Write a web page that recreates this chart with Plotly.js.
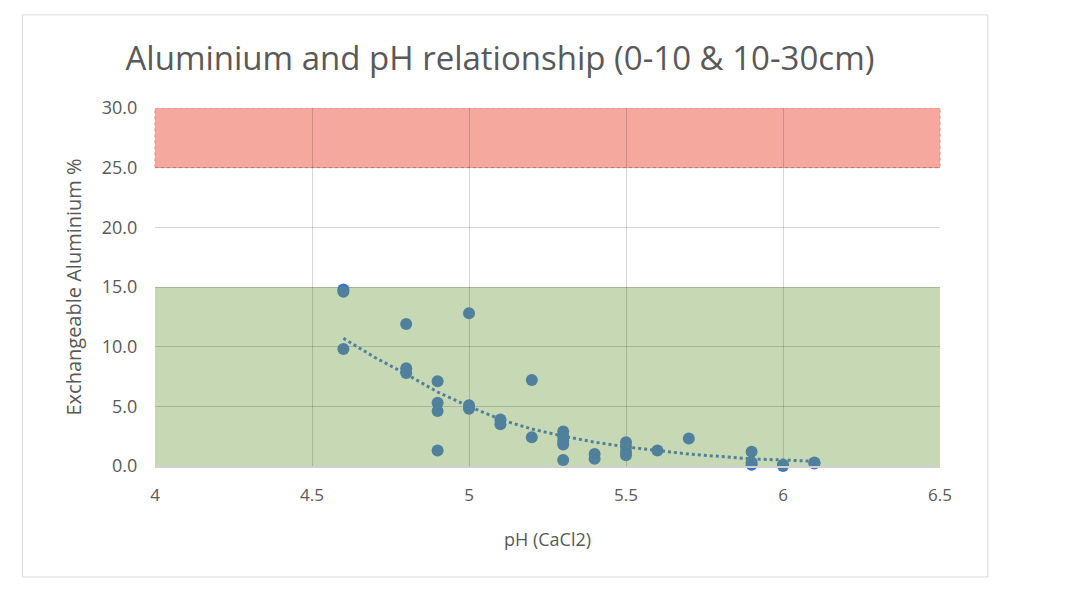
<!DOCTYPE html>
<html>
<head>
<meta charset="utf-8">
<script src="https://cdn.plot.ly/plotly-3.0.1.min.js"></script>
<style>
  html, body { margin: 0; padding: 0; background: #fff; }
  #chart { width: 1066px; height: 601px; }
</style>
</head>
<body>
<div id="chart"></div>
<script>
'use strict';
/* soil samples, 0-10 & 10-30cm */
var ph = [4.6, 4.6, 4.8, 4.8, 4.8, 4.9, 4.9, 4.9, 4.9, 5.0, 5.0, 5.0, 5.1, 5.1, 5.2, 5.2,
          5.3, 5.3, 5.3, 5.3, 5.3, 5.4, 5.4, 5.5, 5.5, 5.5, 5.5, 5.6, 5.7, 5.9, 5.9, 6.0, 6.1];
var al = [14.6, 9.8, 11.9, 8.2, 7.8, 7.1, 5.3, 4.6, 1.3, 12.8, 5.1, 4.8, 3.9, 3.5, 7.2, 2.4,
          2.9, 2.5, 2.1, 1.8, 0.5, 1.0, 0.6, 2.0, 1.6, 1.2, 0.9, 1.3, 2.3, 1.2, 0.3, 0.1, 0.3];

/* second series, mostly hidden under the first */
var ph_b = [4.6, 5.9, 6.0, 6.1];
var al_b = [14.8, 0.1, 0.0, 0.2];

/* dotted trendline */
var trend_ph = [4.6, 4.7, 4.8, 4.9, 5.0, 5.1, 5.2, 5.3, 5.4, 5.5, 5.6, 5.7, 5.8, 5.9, 6.0, 6.1];
var trend_al = [10.7, 9.1, 7.7, 6.2, 5.0, 3.9, 3.1, 2.5, 2.0, 1.6, 1.3, 1.0, 0.8, 0.6, 0.5, 0.4];

/* target bands */
var green_band = [0, 15];
var red_band = [25, 30];

var x_ticks = [4, 4.5, 5, 5.5, 6, 6.5];
var y_ticks = [0, 5, 10, 15, 20, 25, 30];

var steel = '#50809b';
var font = '"Open Sans", "Liberation Sans", sans-serif';

var data = [
{
  x: ph_b,
  y: al_b,
  type: 'scatter',
  mode: 'markers',
  marker: { color: '#3f6fd0', size: 12 },
  cliponaxis: false,
  hoverinfo: 'x+y'
},
{
  x: trend_ph,
  y: trend_al,
  type: 'scatter',
  mode: 'lines',
  line: { color: steel, width: 3, dash: 'dot' },
  hoverinfo: 'skip'
},
{
  x: ph,
  y: al,
  type: 'scatter',
  mode: 'markers',
  marker: { color: steel, size: 12 },
  cliponaxis: false,
  hoverinfo: 'x+y'
}];

var layout = {
  width: 1066,
  height: 601,
  margin: { l: 155, r: 126, t: 108, b: 135 },
  paper_bgcolor: '#ffffff',
  plot_bgcolor: '#ffffff',
  showlegend: false,
  font: { family: font, color: '#595959', size: 17 },
  title: {
    text: 'Aluminium and pH relationship (0-10 & 10-30cm)',
    font: { family: font, size: 33, color: '#595959' },
    xref: 'container',
    x: 0.469,
    xanchor: 'center',
    yref: 'container',
    y: 0.903,
    yanchor: 'middle'
  },
  xaxis: {
    range: [4, 6.5],
    tickvals: x_ticks,
    ticktext: x_ticks.map(String),
    showgrid: true,
    gridcolor: 'rgba(0,0,0,0.16)',
    zeroline: false,
    showline: true,
    linecolor: '#d0d0d0',
    linewidth: 1.5,
    ticks: 'outside',
    ticklen: 13,
    tickcolor: 'rgba(0,0,0,0)',
    tickfont: { size: 17, color: '#595959' },
    title: { text: 'pH (CaCl2)', font: { size: 18, color: '#595959' }, standoff: 28 }
  },
  yaxis: {
    range: [0, 30],
    tickvals: y_ticks,
    tickformat: '.1f',
    showgrid: true,
    gridcolor: 'rgba(0,0,0,0.16)',
    zeroline: false,
    showline: false,
    ticks: 'outside',
    ticklen: 13,
    tickcolor: 'rgba(0,0,0,0)',
    tickfont: { size: 18, color: '#595959' },
    title: { text: 'Exchangeable Aluminium %', font: { size: 20, color: '#595959' }, standoff: 14 }
  },
  shapes: [
  {
    type: 'rect', layer: 'below',
    xref: 'paper', yref: 'y',
    x0: 0, x1: 1, y0: green_band[0], y1: green_band[1],
    fillcolor: '#c6d9b4',
    line: { width: 0 }
  },
  {
    type: 'rect', layer: 'below',
    xref: 'paper', yref: 'y',
    x0: 0, x1: 1, y0: red_band[0], y1: red_band[1],
    fillcolor: '#f5a89d',
    line: { color: '#e4867b', width: 1, dash: 'dot' }
  },
  {
    /* outer chart border */
    type: 'rect', layer: 'below',
    xref: 'paper', yref: 'paper',
    x0: -0.169, x1: 1.061, y0: -0.31, y1: 1.26,
    line: { color: '#d9d9d9', width: 1 }
  }]
};

Plotly.newPlot('chart', data, layout, { displayModeBar: false, staticPlot: true });
</script>
</body>
</html>
